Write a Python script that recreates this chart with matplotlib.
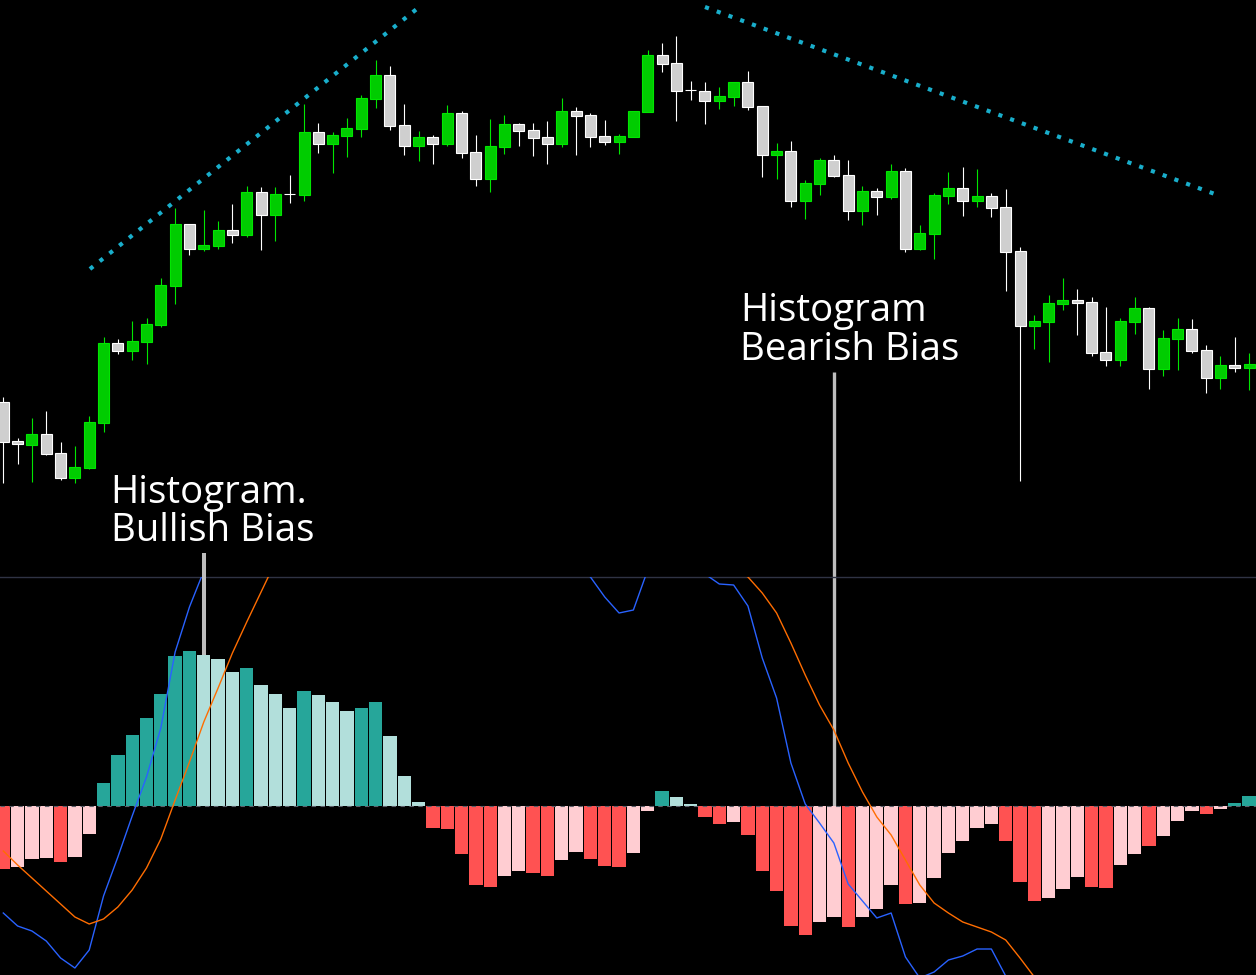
import matplotlib
matplotlib.use("Agg")
import matplotlib.pyplot as plt
import numpy as np

# candles; price levels are screen rows (smaller = higher)
OPEN = [402, 441, 445, 434, 453, 478, 468, 423, 343, 351,
        342, 325, 286, 224, 249, 246, 230, 235, 192, 215,
        194, 195, 132, 144, 136, 129, 99, 75, 125, 146,
        137, 144, 113, 152, 179, 147, 124, 130, 137, 144,
        111, 115, 136, 142, 137, 112, 55, 63, 90, 91,
        101, 97, 82, 106, 155, 151, 201, 184, 160, 175,
        211, 191, 197, 171, 249, 234, 196, 188, 201, 196,
        207, 251, 326, 322, 304, 300, 302, 352, 360, 322,
        308, 369, 339, 329, 350, 378, 365, 368]
HIGH = [397, 438, 418, 411, 442, 446, 416, 337, 339, 321,
        318, 278, 208, 224, 210, 221, 204, 186, 187, 187,
        175, 104, 123, 132, 118, 95, 60, 66, 104, 131,
        135, 105, 111, 135, 119, 115, 123, 123, 121, 98,
        107, 113, 120, 134, 111, 50, 43, 36, 81, 82,
        87, 82, 71, 106, 143, 141, 180, 158, 155, 160,
        186, 188, 164, 168, 225, 193, 172, 167, 169, 193,
        189, 247, 315, 295, 278, 289, 297, 307, 318, 297,
        307, 330, 318, 319, 345, 356, 337, 353]
LOW = [483, 464, 482, 455, 480, 483, 469, 432, 354, 360,
       364, 327, 304, 255, 251, 249, 243, 237, 250, 241,
       203, 201, 153, 173, 157, 137, 108, 130, 155, 161,
       164, 146, 158, 186, 192, 154, 146, 156, 164, 147,
       155, 147, 145, 154, 137, 112, 72, 121, 100, 124,
       109, 106, 110, 177, 179, 207, 219, 195, 177, 220,
       225, 215, 199, 252, 250, 259, 204, 216, 207, 217,
       291, 481, 349, 362, 310, 335, 356, 366, 366, 334,
       389, 376, 370, 353, 393, 389, 372, 390]
CLOSE = [442, 444, 434, 454, 478, 467, 422, 343, 351, 341,
         324, 285, 224, 249, 245, 230, 235, 192, 215, 194,
         194, 132, 144, 135, 128, 98, 75, 126, 146, 137,
         144, 113, 153, 179, 146, 124, 131, 138, 144, 111,
         116, 137, 142, 136, 111, 55, 64, 91, 90, 101,
         96, 82, 107, 155, 151, 201, 183, 160, 176, 211,
         191, 197, 171, 249, 233, 195, 188, 201, 196, 208,
         252, 326, 321, 303, 300, 303, 353, 360, 321, 308,
         369, 338, 329, 351, 378, 365, 368, 364]

# MACD panel (zero = 0)
HIST = [-63, -61, -53, -52, -56, -51, -28, 23, 51, 71,
        88, 112, 150, 155, 151, 147, 134, 138, 121, 112,
        98, 115, 111, 104, 95, 98, 104, 70, 30, 4,
        -22, -23, -48, -79, -81, -70, -65, -67, -70, -54,
        -46, -53, -60, -61, -47, -5, 15, 9, 2, -11,
        -18, -16, -29, -65, -85, -120, -129, -116, -111, -121,
        -111, -103, -79, -98, -97, -72, -47, -35, -22, -18,
        -35, -76, -95, -92, -83, -71, -81, -82, -59, -48,
        -40, -30, -15, -5, -8, -3, 3, 10]
# G rising above zero, L falling above zero, R falling below zero, P rising below zero
HIST_KIND = ("RPPPRPPGGG" "GGGGLLLGLL" "LGLLLGGLLL" "RRRRRPPRRP" "PRRRPPGLLR"
             "RPRRRRRPPR" "PPPRPPPPPP" "RRRPPPRRPP" "RPPPRPGG")
MACD = [-107, -120, -125, -135, -152, -162, -144, -90, -51, -10,
        29, 78, 154, 199, 235, 265, 287, 322, 335, 356,
        366, 405, 419, 428, 432, 446, 462, 436, 400, 375,
        347, 342, 309, 266, 254, 256, 253, 243, 233, 240,
        242, 229, 209, 193, 196, 236, 255, 250, 243, 232,
        222, 221, 200, 148, 108, 43, 2, -17, -37, -78,
        -95, -112, -107, -151, -172, -166, -154, -150, -143, -143,
        -170, -228, -266, -277, -279, -276, -294, -302, -284, -276,
        -269, -259, -243, -231, -232, -224, -215, -204]
SIGNAL = [-45, -59, -72, -85, -98, -111, -118, -113, -101, -84,
          -62, -33, 6, 44, 84, 118, 153, 184, 214, 244,
          268, 290, 308, 324, 337, 348, 358, 366, 370, 371,
          369, 365, 357, 345, 335, 326, 318, 310, 303, 294,
          288, 282, 269, 254, 243, 241, 240, 241, 241, 243,
          240, 237, 229, 213, 193, 163, 131, 101, 76, 43,
          14, -11, -29, -54, -79, -97, -107, -116, -121, -126,
          -134, -152, -171, -185, -196, -205, -213, -220, -225, -228,
          -229, -229, -228, -226, -224, -221, -218, -214]

# dotted trend lines (bar index, price row)
TREND_UP_X = [6.05, 28.96]
TREND_UP_Y = [269, 8]
TREND_DOWN_X = [49.0, 84.6]
TREND_DOWN_Y = [7, 194]

GREEN = '#00cc00'
GREEN_EDGE = '#00e600'
GREY = '#cfcfcf'
WHITE = '#ffffff'
CYAN = '#19aecb'
HIST_COLORS = {'G': '#26a69a', 'L': '#b2dfdb', 'R': '#ff5252', 'P': '#ffcdd2'}
BLUE = '#2962ff'
ORANGE = '#ff6d00'
POINTER = '#bdbdbd'

W, H = 1256, 975
TOP_H = 576
X0, STEP = 3.3, 14.32


def clean(ax):
    ax.set_facecolor('none')
    ax.set_xticks([])
    ax.set_yticks([])
    for s in ax.spines.values():
        s.set_visible(False)
    ax.set_xlim(-X0 / STEP, (W - X0) / STEP)


def draw_candles(ax):
    o, h, l, c = (np.array(v, dtype=float) for v in (OPEN, HIGH, LOW, CLOSE))
    idx = np.arange(len(o))
    up = c < o
    for mask, fill, edge in ((up, GREEN, GREEN_EDGE), (~up, GREY, WHITE)):
        ax.vlines(idx[mask], h[mask], l[mask], color=edge, lw=0.8, zorder=2)
        ax.bar(idx[mask], np.abs(c - o)[mask], bottom=np.minimum(o, c)[mask],
               width=0.77, color=fill, edgecolor=edge, linewidth=0.8, zorder=3)

    for xs, ys in ((TREND_UP_X, TREND_UP_Y), (TREND_DOWN_X, TREND_DOWN_Y)):
        ax.plot(xs, ys, color=CYAN, lw=3.0, ls=(0, (1, 2)),
                dash_capstyle='butt', zorder=4)
    ax.set_ylim(TOP_H, 0)


def draw_macd(ax):
    idx = np.arange(len(HIST))
    ax.bar(idx, HIST, width=0.93, color=[HIST_COLORS[k] for k in HIST_KIND], zorder=2)
    ax.axhline(0, color='#5d606b', lw=0.8, ls=(0, (4, 4)), zorder=2.5)
    ax.plot(idx, MACD, color=BLUE, lw=1.0, zorder=3)
    ax.plot(idx, SIGNAL, color=ORANGE, lw=1.0, zorder=3)
    ax.set_ylim(-(H - 806), 806 - 577)
    ax.spines['top'].set_visible(True)
    ax.spines['top'].set_color('#2f3344')
    ax.spines['top'].set_linewidth(1.0)


def main():
    plt.rcParams['font.family'] = ['Open Sans', 'DejaVu Sans']
    fig = plt.figure(figsize=(W / 100, H / 100), dpi=100, facecolor='black')
    ax_top = fig.add_axes([0, 1 - TOP_H / H, 1, TOP_H / H])
    ax_bot = fig.add_axes([0, 0, 1, (H - 577) / H])
    clean(ax_top)
    clean(ax_bot)

    draw_candles(ax_top)
    draw_macd(ax_bot)

    # annotations
    txt = dict(color='white', fontsize=27.6, va='baseline', ha='left', zorder=6)
    ax_top.text(7.5, 503, 'Histogram.', **txt)
    ax_top.text(7.5, 541, 'Bullish Bias', **txt)
    ax_top.text(51.45, 321, 'Histogram', **txt)
    ax_top.text(51.45, 360, 'Bearish Bias', **txt)

    ax_bot.plot([14, 14], [HIST[14], 806 - 553], color=POINTER, lw=2.9,
                solid_capstyle='butt', clip_on=False, zorder=5)
    ax_top.plot([58, 58], [372, 806], color=POINTER, lw=2.4,
                solid_capstyle='butt', clip_on=False, zorder=5)

    fig.savefig('out.png', dpi=100, facecolor='black')
    plt.close(fig)


if __name__ == '__main__':
    main()
